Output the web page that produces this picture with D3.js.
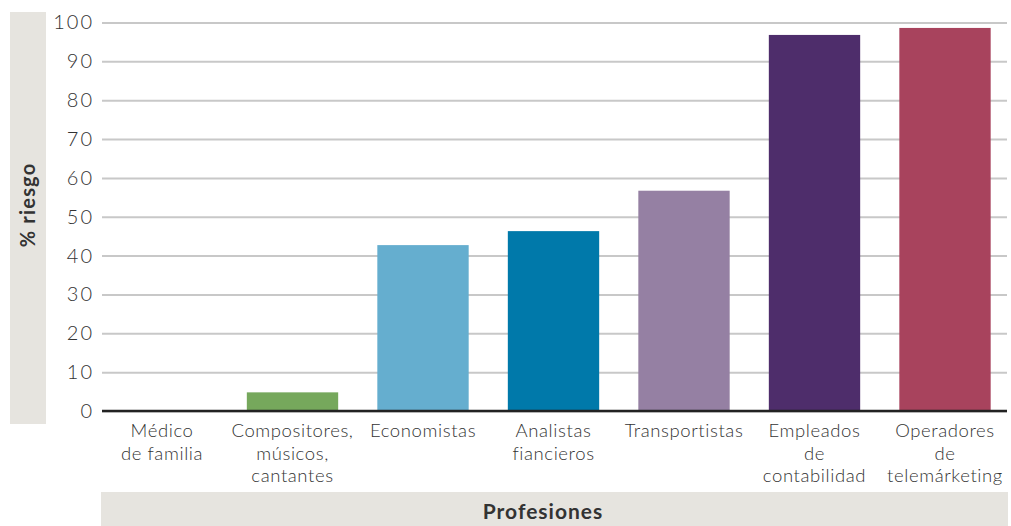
<!DOCTYPE html>
<html><head><meta charset="utf-8">
<script src="https://cdn.jsdelivr.net/npm/d3@7"></script>
<style>
body{margin:0;background:#fff;}
svg{display:block;font-family:Lato,"Open Sans",sans-serif;}
</style></head>
<body><svg id="c" width="1011" height="526"></svg>
<script>
const categories = [["Médico","de familia"],["Compositores,","músicos,","cantantes"],["Economistas"],["Analistas","fiancieros"],["Transportistas"],["Empleados","de","contabilidad"],["Operadores","de","telemárketing"]];
const values = [0, 4.8, 42.7, 46.3, 56.7, 96.8, 98.6];
const colors = ["#76a85c","#76a85c","#65aecf","#0079aa","#9580a3","#4e2d6b","#a8435d"];
const yTicks = [0,10,20,30,40,50,60,70,80,90,100];
const yTitle = "% riesgo";
const xTitle = "Profesiones";

const svg = d3.select("#c");
const x = d3.scaleBand().domain(d3.range(categories.length)).range([96.75,1010.25]).paddingInner(0.3).paddingOuter(0.15);
const y = d3.scaleLinear().domain([0,100]).range([411,22.5]);

// y title box
svg.append("rect").attr("x",10).attr("y",12).attr("width",36).attr("height",412).attr("fill","#e6e4df");
svg.append("text").attr("transform","translate(35,205) rotate(-90)").attr("text-anchor","middle")
  .attr("font-size",20).attr("font-weight","bold").attr("letter-spacing",1.2).attr("fill","#333").text(yTitle);
// x title box
svg.append("rect").attr("x",101).attr("y",492).attr("width",907).attr("height",34).attr("fill","#e6e4df");
svg.append("text").attr("x",543).attr("y",519).attr("text-anchor","middle")
  .attr("font-size",21).attr("font-weight","bold").attr("letter-spacing",1).attr("fill","#333").text(xTitle);

// grid + y axis
const gAx = svg.append("g").attr("transform","translate(102,0)")
  .call(d3.axisLeft(y).tickValues(yTicks).tickSize(-905).tickPadding(10));
gAx.select(".domain").remove();
gAx.selectAll(".tick line").attr("stroke","#c8c8c8").attr("stroke-width",2);
gAx.selectAll(".tick text").attr("font-size",20).attr("letter-spacing",2).attr("fill","#333").attr("font-family","Lato,sans-serif").attr("font-weight",300).attr("dx",2);

// bars
svg.append("g").selectAll("rect").data(values).join("rect")
  .attr("x",(d,i)=>x(i)).attr("width",x.bandwidth())
  .attr("y",d=>y(d)).attr("height",d=>y(0)-y(d))
  .attr("fill",(d,i)=>colors[i]);

// zero line
svg.append("line").attr("x1",102).attr("x2",1007).attr("y1",y(0)).attr("y2",y(0)).attr("stroke","#222").attr("stroke-width",2.5);

// x labels
const gx = svg.append("g");
categories.forEach((lines,i)=>{
  const t = gx.append("text").attr("text-anchor","middle").attr("font-size",18.5).attr("letter-spacing",0.6).attr("fill","#333").attr("font-weight",300);
  lines.forEach((l,j)=>{
    t.append("tspan").attr("x",x(i)+x.bandwidth()/2).attr("y",437+j*22.5).text(l);
  });
});
</script></body></html>
